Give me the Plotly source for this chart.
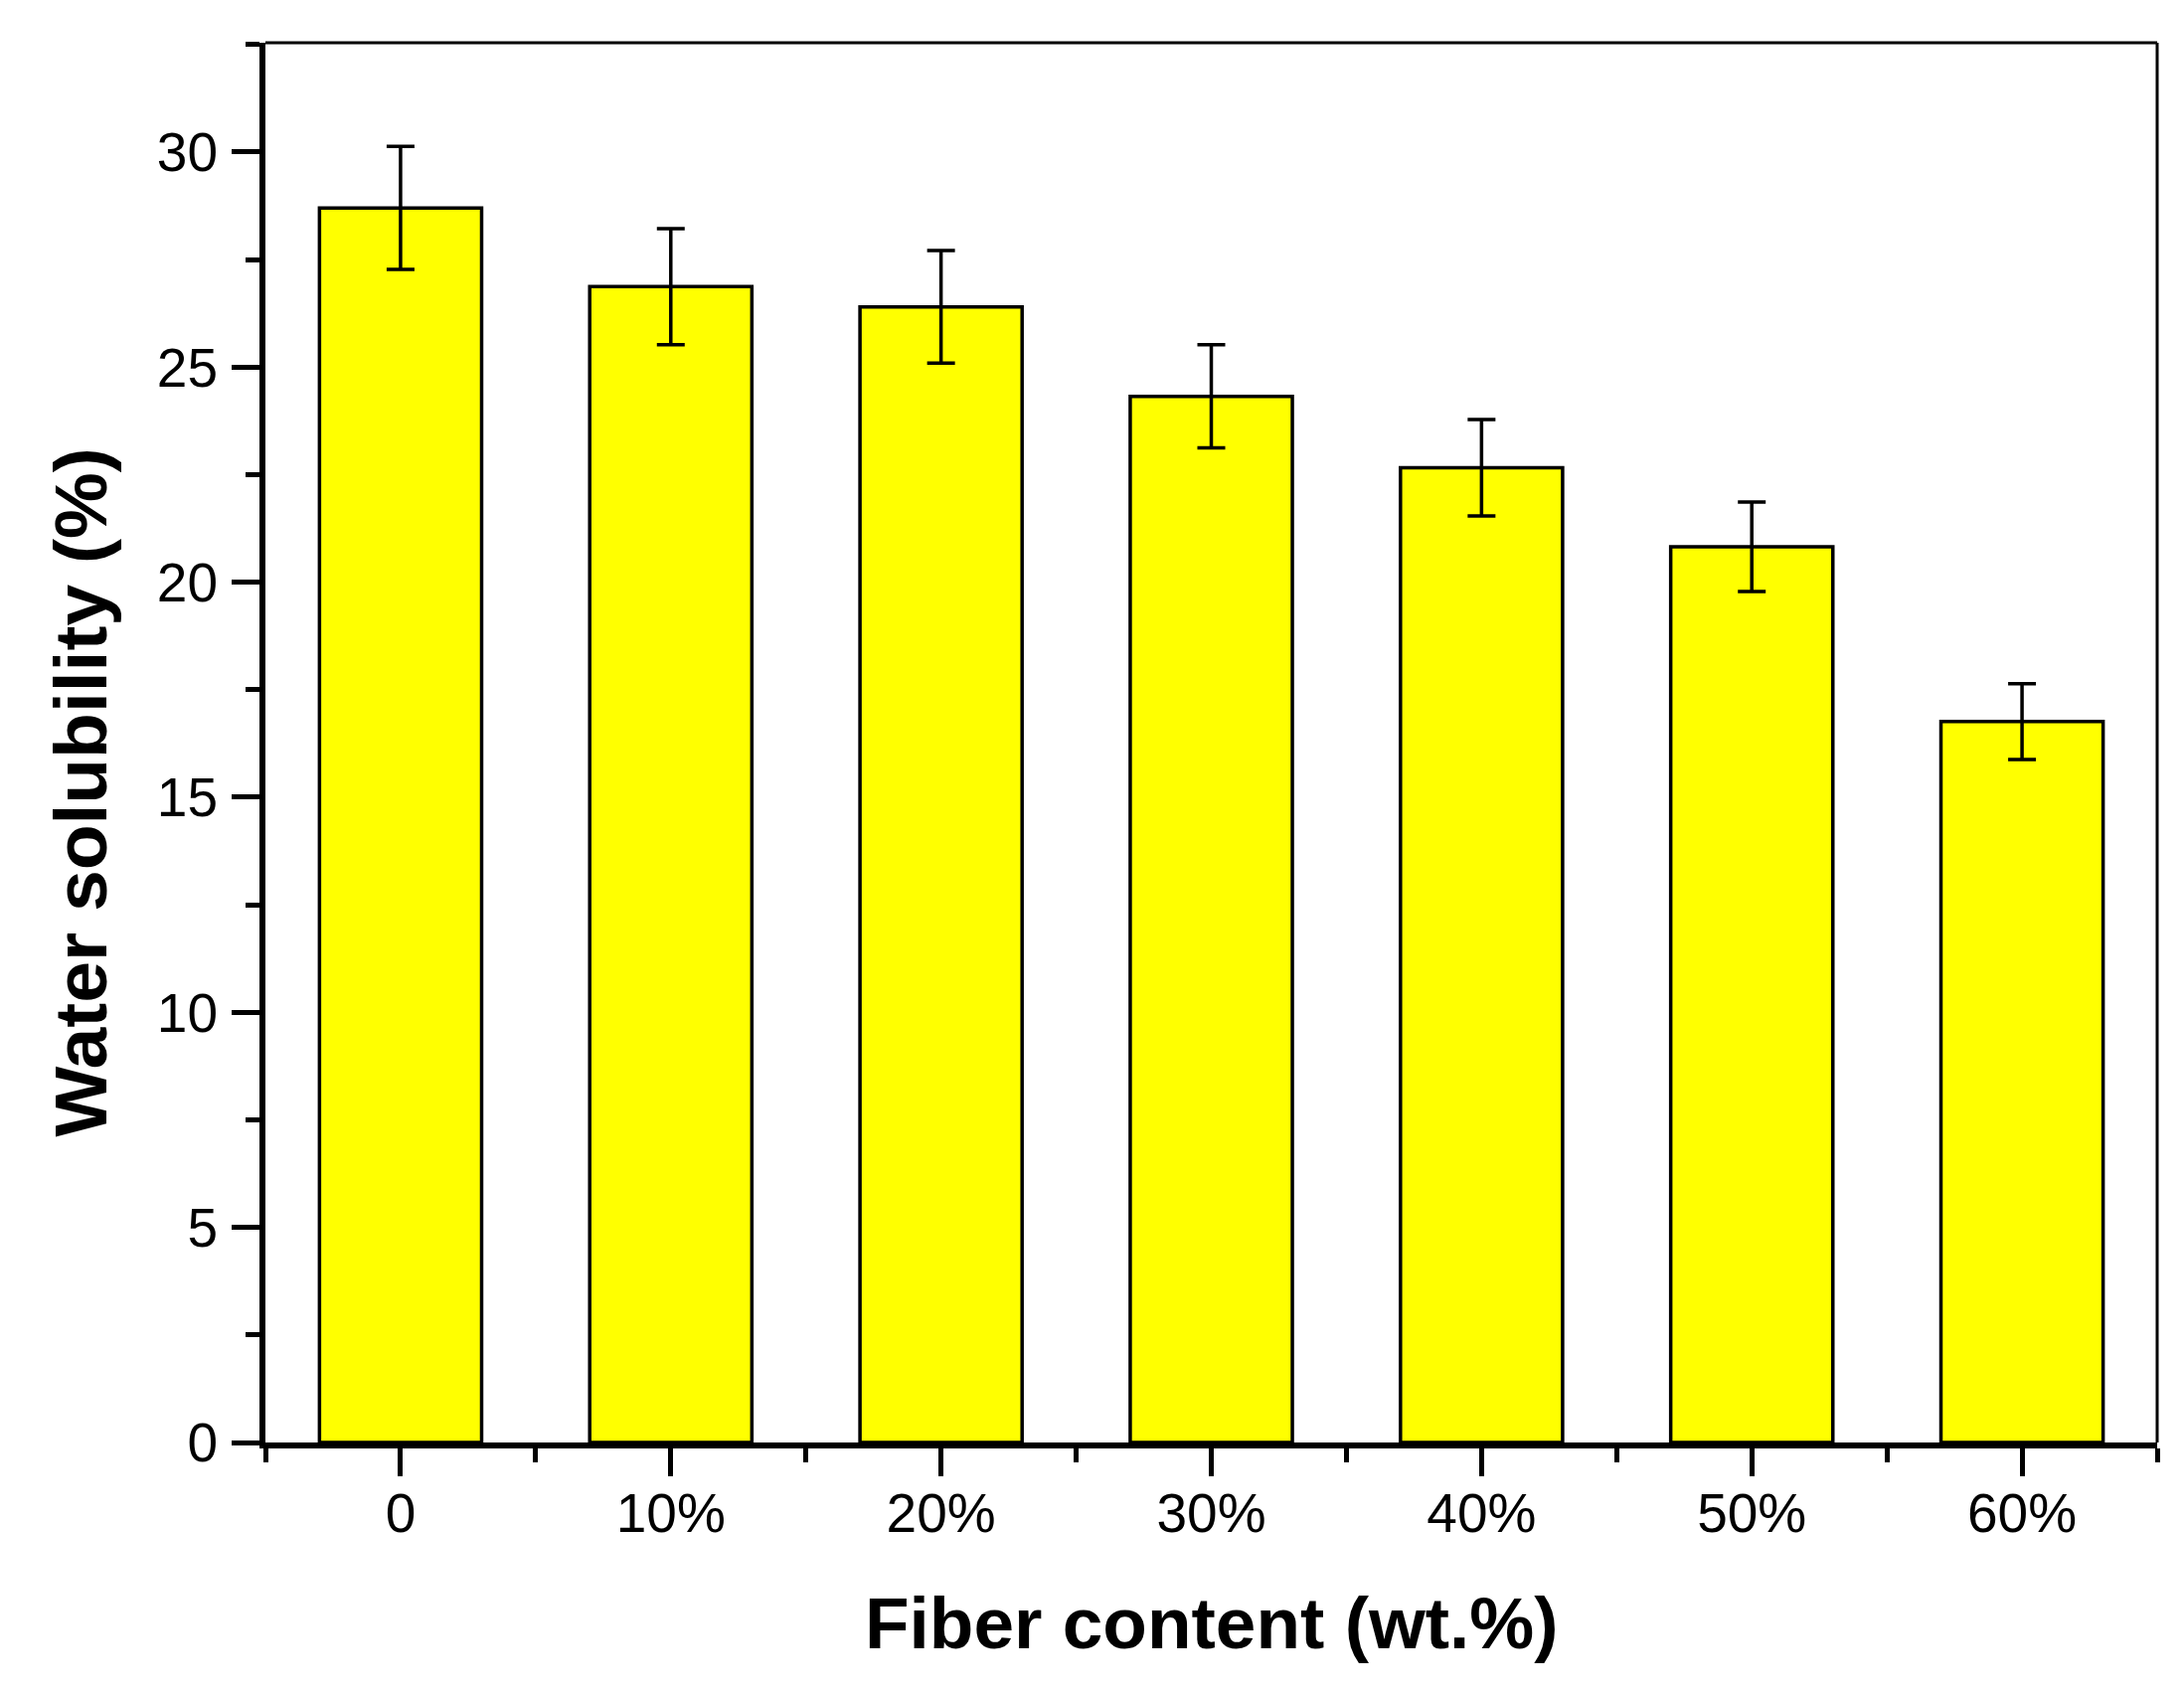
import plotly.graph_objects as go

categories = ["0", "10%", "20%", "30%", "40%", "50%", "60%"]
solubility = [28.70, 26.87, 26.40, 24.32, 22.66, 20.82, 16.76]
errors = [1.43, 1.35, 1.31, 1.20, 1.12, 1.04, 0.88]
y_tick_vals = [0, 5, 10, 15, 20, 25, 30]

positions = list(range(len(categories)))

fig = go.Figure()
fig.add_trace(go.Bar(
    x=positions,
    y=solubility,
    width=0.6,
    marker=dict(color="#FFFF00", line=dict(color="black", width=3.5)),
    error_y=dict(type="data", array=errors, visible=True, color="black",
                 thickness=3.5, width=14),
    showlegend=False,
))

W, H = 2197, 1704
L, R, T, B = 259, 35, 35, 261

fig.update_layout(
    width=W, height=H,
    margin=dict(l=L, r=R, t=T, b=B),
    paper_bgcolor="white",
    plot_bgcolor="white",
    font=dict(family="Liberation Sans, Arial, sans-serif", color="black"),
    xaxis=dict(
        range=[-0.5, len(categories) - 0.5],
        tickmode="array",
        tickvals=positions,
        ticktext=categories,
        ticks="outside", ticklen=28, tickwidth=5, tickcolor="black",
        showline=True, linewidth=6, linecolor="black",
        showgrid=False, zeroline=False,
        tickfont=dict(size=55, color="black"),
        ticklabelstandoff=-10,
        minor=dict(tickmode="linear", tick0=0.5, dtick=1, ticks="outside",
                   ticklen=14, tickwidth=5, tickcolor="black", showgrid=False),
    ),
    yaxis=dict(
        range=[0, 32.54],
        tickmode="array",
        tickvals=y_tick_vals,
        ticks="outside", ticklen=28, tickwidth=5, tickcolor="black",
        showline=True, linewidth=6, linecolor="black",
        showgrid=False, zeroline=False,
        tickfont=dict(size=55, color="black"),
        ticklabelstandoff=3,
        minor=dict(tickmode="linear", tick0=2.5, dtick=5, ticks="outside",
                   ticklen=14, tickwidth=5, tickcolor="black", showgrid=False),
    ),
    shapes=[
        dict(type="line", xref="paper", yref="paper", x0=0, x1=1, y0=1, y1=1,
             line=dict(color="black", width=3)),
        dict(type="line", xref="paper", yref="paper", x0=1, x1=1, y0=0, y1=1,
             line=dict(color="black", width=3)),
    ],
    annotations=[
        dict(text="<b>Fiber content (wt.%)</b>", xref="paper", yref="paper",
             x=0.5, y=-0.1286, xanchor="center", yanchor="middle",
             showarrow=False, font=dict(size=73, color="black")),
        dict(text="<b>Water solubility (%)</b>", xref="paper", yref="paper",
             x=-0.098, y=0.4645, xanchor="center", yanchor="middle",
             textangle=-90, showarrow=False, font=dict(size=75, color="black")),
    ],
)

fig.write_html("out.html")
